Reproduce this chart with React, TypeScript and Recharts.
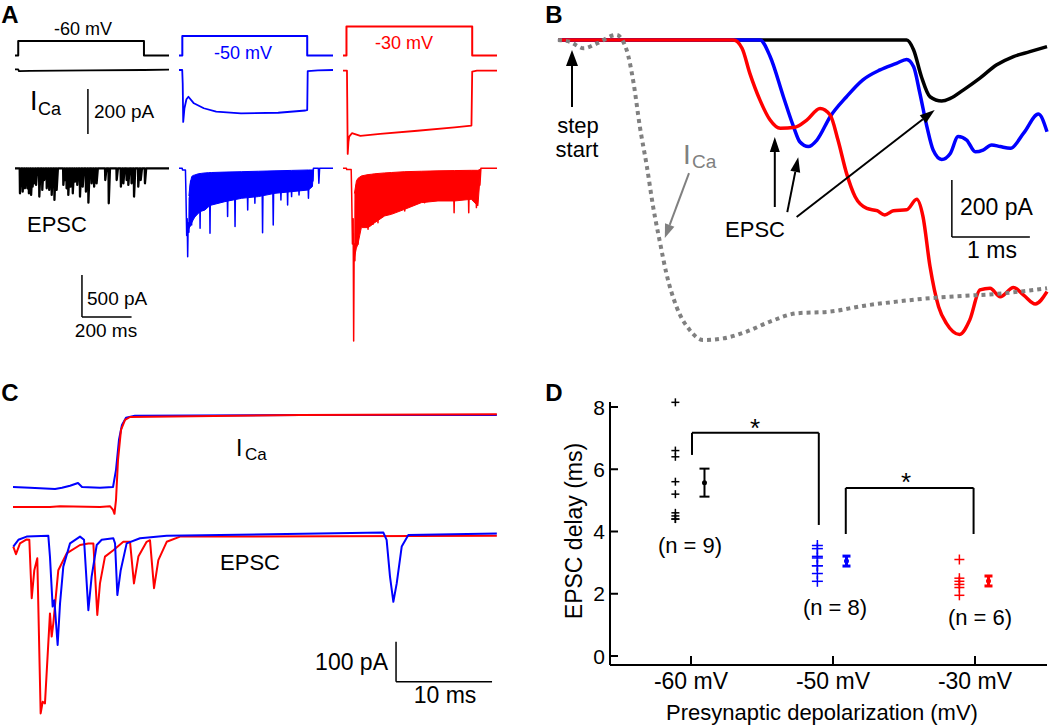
import React from "react";
import {
  ComposedChart, Line, Area, XAxis, YAxis, ReferenceLine,
  ScatterChart, Scatter, ErrorBar,
} from "recharts";

const FONT = "'Liberation Sans', Arial, Helvetica, sans-serif";
const BLUE = "#0000ff";
const RED = "#ff0000";
const GRAY = "#808080";

type Pt = number[];

// ---------- A: steps from -90 mV; t in ms, Vm in mV, currents in pA ----------
const stepBlack: Pt[] = [[0, -90], [13, -90], [13, -60], [520, -60], [520, -90], [621, -90]];
const stepBlue: Pt[] = [[0, -90], [13.4, -90], [13.4, -50], [517, -50], [517, -90], [621, -90]];
const stepRed: Pt[] = [[0, -90], [14, -90], [14, -30], [521, -30], [521, -90], [621, -90]];

const icaBlack: Pt[] = [[0, 3], [13, 3], [16, -5], [60, -4], [300, -2], [520, 0], [621, 2]];
const icaBlue: Pt[] = [[0, 0], [13, 0], [15, -60], [17, -231], [22, -170], [30, -130], [38, -119], [60, -148], [100, -170], [150, -185], [250, -193], [400, -190], [510, -180], [517, -178], [519, -5], [560, -2], [621, 0]];
const icaRed: Pt[] = [[0, -3], [16, -3], [17, -120], [19, -373], [22, -320], [25, -296], [36, -281], [70, -293], [150, -284], [300, -270], [450, -255], [518, -247], [521, -7], [540, -3], [621, -3]];

// black EPSCs: [time, peak]
const epscBlackEvents: Pt[] = [[20, -298], [31, -278], [40, -238], [50, -238], [56, -298], [65, -317], [71, -218], [77, -179], [85, -198], [98, -337], [110, -258], [118, -139], [128, -238], [138, -258], [148, -317], [159, -377], [168, -258], [195, -198], [202, -139], [208, -238], [215, -317], [224, -218], [233, -298], [242, -159], [251, -198], [262, -337], [273, -218], [286, -278], [296, -409], [309, -179], [319, -218], [329, -179], [364, -139], [378, -417], [410, -139], [427, -218], [437, -179], [450, -139], [457, -198], [470, -179], [480, -337], [497, -218], [507, -139], [524, -179]];

// blue / red: onset, dense band [t, upper, lower], large events, tail
const epscBlueHead: Pt[] = [[0, 0], [13, 0], [14, -20], [26, -20], [28, -300], [31, -800], [33, -600], [35, -1052], [37, -650], [40, -760], [42, -350], [44, -690], [47, -150]];
const epscBlueEvents: Pt[] = [[51, -675], [85, -714], [125, -774], [196, -575], [226, -694], [277, -496], [306, -417], [337, -766], [380, -675], [411, -377], [438, -437], [454, -337], [484, -317], [522, -357]];
const epscBlueTail: Pt[] = [[540, -150], [542, 0], [562, 0], [564, -179], [567, 0], [621, 0]];
const epscBlueBand: Pt[] = [[40, -330, -720], [44, -200, -694], [51, -99, -650], [57, -85, -615], [64, -79, -580], [78, -65, -536], [91, -60, -510], [105, -55, -496], [118, -52, -460], [132, -50, -437], [185, -45, -397], [253, -40, -357], [320, -35, -337], [387, -30, -298], [454, -25, -278], [522, -20, -258], [538, -20, -218], [542, -10, -10]];

const epscRedHead: Pt[] = [[0, 0], [14, 0], [15, -15], [33, -15], [35, -300], [38, -900], [41, -600], [43, -2056], [45, -900], [48, -1100], [51, -400], [54, -200]];
const epscRedEvents: Pt[] = [[60.5, -905], [101, -726], [121, -667], [141, -647], [249, -508], [329, -409], [448, -528], [507, -528], [538, -468]];
const epscRedTail: Pt[] = [[552, -200], [556, 0], [621, 0]];
const epscRedBand: Pt[] = [[46, -300, -1063], [54, -151, -950], [60, -120, -905], [74, -91, -706], [101, -75, -706], [114, -71, -680], [128, -65, -647], [168, -55, -567], [195, -50, -548], [249, -40, -488], [316, -35, -409], [383, -30, -389], [450, -27, -389], [517, -24, -369], [544, -24, -448], [555, -10, -10]];

// ---------- B: t in ms from step start, pA ----------
const bBlack: Pt[] = [[-0.18, 0], [4.29, 0], [4.38, -35], [4.48, -129], [4.59, -199], [4.74, -214], [4.85, -205], [5.02, -175], [5.23, -134], [5.44, -88], [5.66, -58], [5.87, -41], [6.09, -23]];
const bBlue: Pt[] = [[-0.18, 0], [2.41, 0], [2.54, -58], [2.71, -199], [2.84, -304], [2.92, -357], [3.03, -374], [3.14, -351], [3.31, -269], [3.52, -199], [3.73, -140], [3.95, -105], [4.16, -82], [4.29, -68], [4.38, -94], [4.46, -187], [4.55, -304], [4.63, -386], [4.74, -419], [4.85, -398], [4.95, -339], [5.06, -351], [5.17, -392], [5.27, -386], [5.38, -368], [5.49, -374], [5.62, -380], [5.79, -327], [5.98, -260], [6.09, -322]];
const bRed: Pt[] = [[-0.18, 0], [2.07, 0], [2.18, -29], [2.28, -117], [2.41, -211], [2.54, -281], [2.67, -310], [2.86, -306], [3.01, -281], [3.18, -240], [3.31, -263], [3.41, -351], [3.52, -468], [3.63, -550], [3.78, -591], [3.91, -599], [4.01, -614], [4.12, -599], [4.29, -596], [4.42, -559], [4.5, -620], [4.59, -795], [4.7, -936], [4.8, -994], [4.97, -1033], [5.1, -982], [5.23, -877], [5.36, -871], [5.49, -901], [5.66, -868], [5.79, -895], [5.94, -926], [6.09, -883]];
const bCa: Pt[] = [[-0.18, 0], [-0.03, -6], [0.15, -29], [0.32, -12], [0.57, 18], [0.7, -35], [0.79, -152], [0.87, -304], [0.96, -444], [1.04, -585], [1.13, -713], [1.21, -819], [1.34, -936], [1.51, -1018], [1.68, -1053], [1.94, -1047], [2.24, -1023], [2.54, -988], [2.88, -959], [3.31, -953], [3.73, -933], [4.16, -918], [4.59, -906], [5.02, -898], [5.44, -891], [6.09, -871]];

// ---------- C: t in ms, pA ----------
const cIcaBlue: Pt[] = [[0, -180], [1.77, -182], [4.38, -185], [5.1, -182], [5.94, -177], [6.77, -170], [7.19, -180], [9.06, -182], [10.42, -180], [10.73, -137], [11.04, -62], [11.35, -25], [11.77, -7], [12.7, -2], [30, 0], [50.4, 0]];
const cIcaRed: Pt[] = [[0, -230], [3.85, -230], [4.9, -228], [9.06, -230], [10.1, -228], [10.42, -237], [10.57, -247], [10.73, -212], [10.94, -112], [11.25, -37], [11.67, -12], [12.19, -5], [30, 0], [50.4, 2]];
const cEpscRed: Pt[] = [[0.03, -29], [0.31, -48], [0.73, -21], [1.42, -11], [1.7, -12], [1.95, -158], [2.22, -88], [2.53, -58], [2.88, -446], [3.09, -417], [3.33, -421], [3.85, -196], [4.03, -254], [4.2, -221], [4.72, -88], [5.59, -46], [6.98, -25], [7.85, -21], [8.37, -21], [8.78, -200], [9.06, -121], [9.58, -54], [10.45, -38], [11.49, -17], [12.19, -17], [12.6, -121], [13.06, -54], [13.92, -17], [14.27, -13], [14.69, -133], [15.14, -63], [16.01, -17], [17.4, -4], [50.4, -2]];
const cEpscBlue: Pt[] = [[0.03, -29], [0.56, -12], [1.42, -4], [3.68, -2], [3.85, -54], [4.13, -179], [4.31, -163], [4.65, -275], [4.9, -171], [5.24, -79], [5.94, -21], [6.98, -4], [7.4, -12], [7.85, -188], [8.19, -104], [8.72, -25], [9.24, -12], [10.45, -8], [10.63, -21], [10.87, -150], [11.22, -88], [11.84, -21], [13.23, -8], [16.01, -2], [38.58, 6], [38.92, -12], [39.27, -104], [39.62, -167], [39.97, -121], [40.49, -29], [41.18, 0], [50.4, 4]];

// ---------- D: EPSC delay (ms) ----------
const dCategories = ["-60 mV", "-50 mV", "-30 mV"];
const delay60 = [8.15, 6.6, 6.4, 5.6, 5.2, 4.6, 4.5, 4.4, 4.4];
const delay50 = [3.55, 3.45, 3.2, 3.15, 2.9, 2.9, 2.65, 2.4];
const delay30 = [3.1, 2.5, 2.4, 2.3, 2.2, 1.95];
const meanDelay = [5.57, 3.05, 2.41];
const semDelay = [0.45, 0.16, 0.16];
const nLabels = ["(n = 9)", "(n = 8)", "(n = 6)"];

// ---------- helpers ----------
const rows = (arr: Pt[]) => arr.map(([t, v]) => ({ t, v }));
const bandRows = (arr: Pt[]) => arr.map(([t, hi, lo]) => ({ t, band: [lo, hi] }));
const spikes = (ev: Pt[], rest: number, w0: number, w1: number): Pt[] =>
  ev.flatMap(([t, a]) => [[t - w0, rest], [t, a], [t + w1, rest]]);

// value domain so that v0 lands on page pixel p0 with k px per unit
const yDom = (v0: number, p0: number, k: number, top: number, h: number): [number, number] =>
  [v0 - (top + h - p0) / k, v0 + (p0 - top) / k];
const xDom = (v0: number, p0: number, k: number, left: number, w: number): [number, number] =>
  [v0 - (p0 - left) / k, v0 + (left + w - p0) / k];

const NO_MARGIN = { top: 0, right: 0, bottom: 0, left: 0 };

const arrow = (color: string, len = 13, half = 5) => (p: any) => {
  const { x1, y1, x2, y2 } = p;
  const a = Math.atan2(y2 - y1, x2 - x1);
  const bx = x2 - len * Math.cos(a);
  const by = y2 - len * Math.sin(a);
  const s = Math.sin(a);
  const c = Math.cos(a);
  return (
    <g>
      <line x1={x1} y1={y1} x2={bx} y2={by} stroke={color} strokeWidth={2} />
      <polygon points={`${x2},${y2} ${bx + half * s},${by - half * c} ${bx - half * s},${by + half * c}`} fill={color} />
    </g>
  );
};

const trace = (key: string, data: Pt[], axis: string, color: string, width: number, curve: any = "linear", dash?: string) => (
  <Line
    key={key}
    yAxisId={axis}
    data={rows(data)}
    dataKey="v"
    type={curve}
    stroke={color}
    strokeWidth={width}
    strokeDasharray={dash}
    strokeLinejoin="round"
    dot={false}
    activeDot={false}
    isAnimationActive={false}
  />
);

// ---------- panel A column ----------
const A_TOP = 15;
const A_H = 335;
const A_W = 154;
const A_K = 0.248; // px per ms

function ColumnA({ left, color, step, ica, epsc, epscWidth = 1.5, band, extra }: any) {
  return (
    <div style={{ position: "absolute", left, top: A_TOP }}>
      <ComposedChart width={A_W} height={A_H} data={band ? bandRows(band) : undefined} margin={NO_MARGIN}>
        <XAxis type="number" dataKey="t" domain={xDom(0, 0, A_K, 0, A_W)} allowDataOverflow hide />
        <YAxis yAxisId="v" type="number" domain={yDom(-90, 55.5, 0.485, A_TOP, A_H)} allowDataOverflow hide />
        <YAxis yAxisId="i" type="number" domain={yDom(0, 70, 0.225, A_TOP, A_H)} allowDataOverflow hide />
        <YAxis yAxisId="e" type="number" domain={yDom(0, 168.3, 0.084, A_TOP, A_H)} allowDataOverflow hide />
        {band && (
          <Area yAxisId="e" dataKey="band" type="linear" stroke={color} strokeWidth={1} fill={color} fillOpacity={1} dot={false} activeDot={false} isAnimationActive={false} />
        )}
        {trace("epsc", epsc, "e", color, epscWidth)}
        {trace("ica", ica, "i", color, 1.8)}
        {trace("step", step, "v", color, 2)}
        {extra}
      </ComposedChart>
    </div>
  );
}

const B_LEFT = 550, B_TOP = 20, B_W = 500, B_H = 340;
const C_LEFT = 8, C_TOP = 385, C_W = 500, C_H = 335;
const D_LEFT = 530, D_TOP = 380, D_W = 520, D_H = 347;

const plus = (half: number, color: string) => (p: any) => (
  <g>
    <line x1={p.cx - half} x2={p.cx + half} y1={p.cy} y2={p.cy} stroke={color} strokeWidth={1.5} />
    <line x1={p.cx} x2={p.cx} y1={p.cy - half} y2={p.cy + half} stroke={color} strokeWidth={1.5} />
  </g>
);
const meanDot = (color: string) => (p: any) => <circle cx={p.cx} cy={p.cy} r={2.5} fill={color} />;

const yTickD = (p: any) => (
  <g>
    <line x1={p.x + 5} x2={p.x + 13} y1={p.y} y2={p.y} stroke="#000" strokeWidth={2} />
    <text x={p.x} y={p.y} dy="0.36em" textAnchor="end" fontSize={21} fontFamily={FONT} fill="#000">{p.payload.value}</text>
  </g>
);
const xTickD = (p: any) => (
  <g>
    <line x1={p.x} x2={p.x} y1={p.y} y2={p.y - 9} stroke="#000" strokeWidth={2} />
    <text x={p.x} y={p.y + 24} textAnchor="middle" fontSize={23} fontFamily={FONT} fill="#000">{dCategories[p.payload.value - 1]}</text>
  </g>
);

const groupColors = ["#000", BLUE, RED];
const groupDelays = [delay60, delay50, delay30];
const plusHalf = [4, 5.5, 5];

export default function App() {
  const bX = xDom(0, 572, 78, B_LEFT, B_W);
  const bY = yDom(0, 40, 0.285, B_TOP, B_H);
  const cX = xDom(0, 13, 9.6, C_LEFT, C_W);
  const dX = xDom(1, 691, 142, 610, 437);
  const dY = yDom(0, 656, 31.125, 402, 263);

  return (
    <div style={{ position: "absolute", left: 0, top: 0, width: 1050, height: 727, background: "#fff", fontFamily: FONT, overflow: "hidden" }}>
      {/* A */}
      <ColumnA
        left={15}
        color="#000"
        step={stepBlack}
        ica={icaBlack}
        epsc={[[0, 0], ...spikes(epscBlackEvents, 0, 1, 5), [621, 0]]}
        epscWidth={2.3}
        extra={[
          <ReferenceLine key="sbI" yAxisId="i" segment={[{ x: 294, y: -84 }, { x: 294, y: -284 }]} stroke="#000" strokeWidth={1.5} />,
          <ReferenceLine key="sbE1" yAxisId="e" segment={[{ x: 270, y: -1270 }, { x: 270, y: -1770 }]} stroke="#000" strokeWidth={1.5} />,
          <ReferenceLine key="sbE2" yAxisId="e" segment={[{ x: 270, y: -1770 }, { x: 470, y: -1770 }]} stroke="#000" strokeWidth={1.5} />,
        ]}
      />
      <ColumnA
        left={179}
        color={BLUE}
        step={stepBlue}
        ica={icaBlue}
        band={epscBlueBand}
        epsc={[...epscBlueHead, ...spikes(epscBlueEvents, -150, 2, 2), ...epscBlueTail]}
      />
      <ColumnA
        left={343}
        color={RED}
        step={stepRed}
        ica={icaRed}
        band={epscRedBand}
        epsc={[...epscRedHead, ...spikes(epscRedEvents, -200, 2, 2), ...epscRedTail]}
      />

      {/* B */}
      <div style={{ position: "absolute", left: B_LEFT, top: B_TOP }}>
        <ComposedChart width={B_W} height={B_H} margin={NO_MARGIN}>
          <XAxis type="number" dataKey="t" domain={bX} allowDataOverflow hide />
          <YAxis yAxisId="p" type="number" domain={bY} allowDataOverflow hide />
          {trace("black", bBlack, "p", "#000", 3.5, "monotone")}
          {trace("blue", bBlue, "p", BLUE, 3.5, "monotone")}
          {trace("red", bRed, "p", RED, 3.5, "monotone")}
          {trace("ca", bCa, "p", GRAY, 4, "monotone", "4 4")}
          <ReferenceLine yAxisId="p" segment={[{ x: 0, y: -235 }, { x: 0, y: -35 }]} shape={arrow("#000", 16, 6)} />
          <ReferenceLine yAxisId="p" segment={[{ x: 1.5, y: -467 }, { x: 1.19, y: -695 }]} shape={arrow(GRAY, 14, 5)} />
          <ReferenceLine yAxisId="p" segment={[{ x: 2.6, y: -586 }, { x: 2.6, y: -340 }]} shape={arrow("#000", 15, 5)} />
          <ReferenceLine yAxisId="p" segment={[{ x: 2.76, y: -604 }, { x: 2.9, y: -411 }]} shape={arrow("#000", 15, 5)} />
          <ReferenceLine yAxisId="p" segment={[{ x: 2.88, y: -621 }, { x: 4.65, y: -246 }]} shape={arrow("#000", 15, 5)} />
          <ReferenceLine yAxisId="p" segment={[{ x: 4.87, y: -491 }, { x: 4.87, y: -691 }]} stroke="#000" strokeWidth={1.5} />
          <ReferenceLine yAxisId="p" segment={[{ x: 4.87, y: -691 }, { x: 5.87, y: -691 }]} stroke="#000" strokeWidth={1.5} />
        </ComposedChart>
      </div>

      {/* C */}
      <div style={{ position: "absolute", left: C_LEFT, top: C_TOP }}>
        <ComposedChart width={C_W} height={C_H} margin={NO_MARGIN}>
          <XAxis type="number" dataKey="t" domain={cX} allowDataOverflow hide />
          <YAxis yAxisId="i" type="number" domain={yDom(0, 415, 0.4, C_TOP, C_H)} allowDataOverflow hide />
          <YAxis yAxisId="e" type="number" domain={yDom(0, 535, 0.4, C_TOP, C_H)} allowDataOverflow hide />
          {trace("ib", cIcaBlue, "i", BLUE, 2)}
          {trace("ir", cIcaRed, "i", RED, 2)}
          {trace("er", cEpscRed, "e", RED, 2)}
          {trace("eb", cEpscBlue, "e", BLUE, 2)}
          <ReferenceLine yAxisId="e" segment={[{ x: 39.9, y: -267 }, { x: 39.9, y: -367 }]} stroke="#000" strokeWidth={1.5} />
          <ReferenceLine yAxisId="e" segment={[{ x: 39.9, y: -367 }, { x: 49.9, y: -367 }]} stroke="#000" strokeWidth={1.5} />
        </ComposedChart>
      </div>

      {/* D */}
      <div style={{ position: "absolute", left: D_LEFT, top: D_TOP }}>
        <ScatterChart width={D_W} height={D_H} margin={{ top: 22, right: 3, bottom: 0, left: 0 }}>
          <XAxis type="number" dataKey="x" domain={dX} ticks={[1, 2, 3]} tick={xTickD}
            tickLine={false} tickSize={0} tickMargin={0} height={62} axisLine={{ stroke: "#000", strokeWidth: 2 }} />
          <YAxis type="number" dataKey="y" domain={dY} ticks={[0, 2, 4, 6, 8]} tick={yTickD}
            tickLine={false} tickSize={0} tickMargin={5} width={80} axisLine={{ stroke: "#000", strokeWidth: 2 }} />
          {groupDelays.map((vals, g) => (
            <Scatter key={`pts${g}`} data={vals.map((y) => ({ x: g + 1 - 0.11, y }))} shape={plus(plusHalf[g], groupColors[g])} isAnimationActive={false} />
          ))}
          {meanDelay.map((m, g) => (
            <Scatter key={`mean${g}`} data={[{ x: g + 1 + 0.095, y: m, err: semDelay[g] }]} shape={meanDot(groupColors[g])} isAnimationActive={false}>
              <ErrorBar dataKey="err" direction="y" width={g === 0 ? 5 : 4} stroke={groupColors[g]} strokeWidth={g === 0 ? 2 : 3} isAnimationActive={false} />
            </Scatter>
          ))}
          <ReferenceLine segment={[{ x: 1.007, y: 6.46 }, { x: 1.007, y: 7.17 }]} stroke="#000" strokeWidth={2} />
          <ReferenceLine segment={[{ x: 1.007, y: 7.17 }, { x: 1.9, y: 7.17 }]} stroke="#000" strokeWidth={2} />
          <ReferenceLine segment={[{ x: 1.9, y: 7.17 }, { x: 1.9, y: 4.21 }]} stroke="#000" strokeWidth={2} />
          <ReferenceLine segment={[{ x: 2.09, y: 3.92 }, { x: 2.09, y: 5.4 }]} stroke="#000" strokeWidth={2} />
          <ReferenceLine segment={[{ x: 2.09, y: 5.4 }, { x: 2.99, y: 5.4 }]} stroke="#000" strokeWidth={2} />
          <ReferenceLine segment={[{ x: 2.99, y: 5.4 }, { x: 2.99, y: 3.92 }]} stroke="#000" strokeWidth={2} />
        </ScatterChart>
      </div>

      {/* labels */}
      <svg width={1050} height={727} style={{ position: "absolute", left: 0, top: 0, pointerEvents: "none" }} fontFamily={FONT}>
        <g fontWeight="bold" fontSize={24} textAnchor="middle">
          <text x={10} y={23}>A</text>
          <text x={554} y={23}>B</text>
          <text x={10} y={401}>C</text>
          <text x={554} y={401}>D</text>
        </g>

        <g fontSize={18} textAnchor="middle">
          <text x={83} y={35}>-60 mV</text>
          <text x={243} y={59} fill={BLUE}>-50 mV</text>
          <text x={404} y={49} fill={RED}>-30 mV</text>
        </g>
        <text x={30} y={110} fontSize={27}>I</text>
        <text x={38} y={115} fontSize={18}>Ca</text>
        <text x={94} y={118} fontSize={19}>200 pA</text>
        <text x={27} y={232} fontSize={22}>EPSC</text>
        <text x={87} y={305} fontSize={19}>500 pA</text>
        <text x={106} y={337} fontSize={19} textAnchor="middle">200 ms</text>

        <text x={578} y={133} fontSize={22} textAnchor="middle">step</text>
        <text x={577} y={157} fontSize={22} textAnchor="middle">start</text>
        <text x={683} y={164} fontSize={28} fill={GRAY}>I</text>
        <text x={692} y={168} fontSize={19} fill={GRAY}>Ca</text>
        <text x={755} y={237} fontSize={22} textAnchor="middle">EPSC</text>
        <text x={960} y={215} fontSize={23}>200 pA</text>
        <text x={992} y={258} fontSize={23} textAnchor="middle">1 ms</text>

        <text x={236} y={456} fontSize={23}>I</text>
        <text x={245} y={460} fontSize={17}>Ca</text>
        <text x={250} y={570} fontSize={22} textAnchor="middle">EPSC</text>
        <text x={388} y={670} fontSize={23} textAnchor="end">100 pA</text>
        <text x={445} y={703} fontSize={23} textAnchor="middle">10 ms</text>

        <g fontSize={26} textAnchor="middle">
          <text x={755} y={437}>*</text>
          <text x={906} y={491}>*</text>
        </g>
        <g fontSize={22} textAnchor="middle">
          <text x={690} y={553}>{nLabels[0]}</text>
          <text x={835} y={615}>{nLabels[1]}</text>
          <text x={980} y={625}>{nLabels[2]}</text>
          <text x={822} y={720}>Presynaptic depolarization (mV)</text>
        </g>
        <text x={582} y={531} fontSize={23} textAnchor="middle" transform="rotate(-90 582 531)">EPSC delay (ms)</text>
      </svg>
    </div>
  );
}
